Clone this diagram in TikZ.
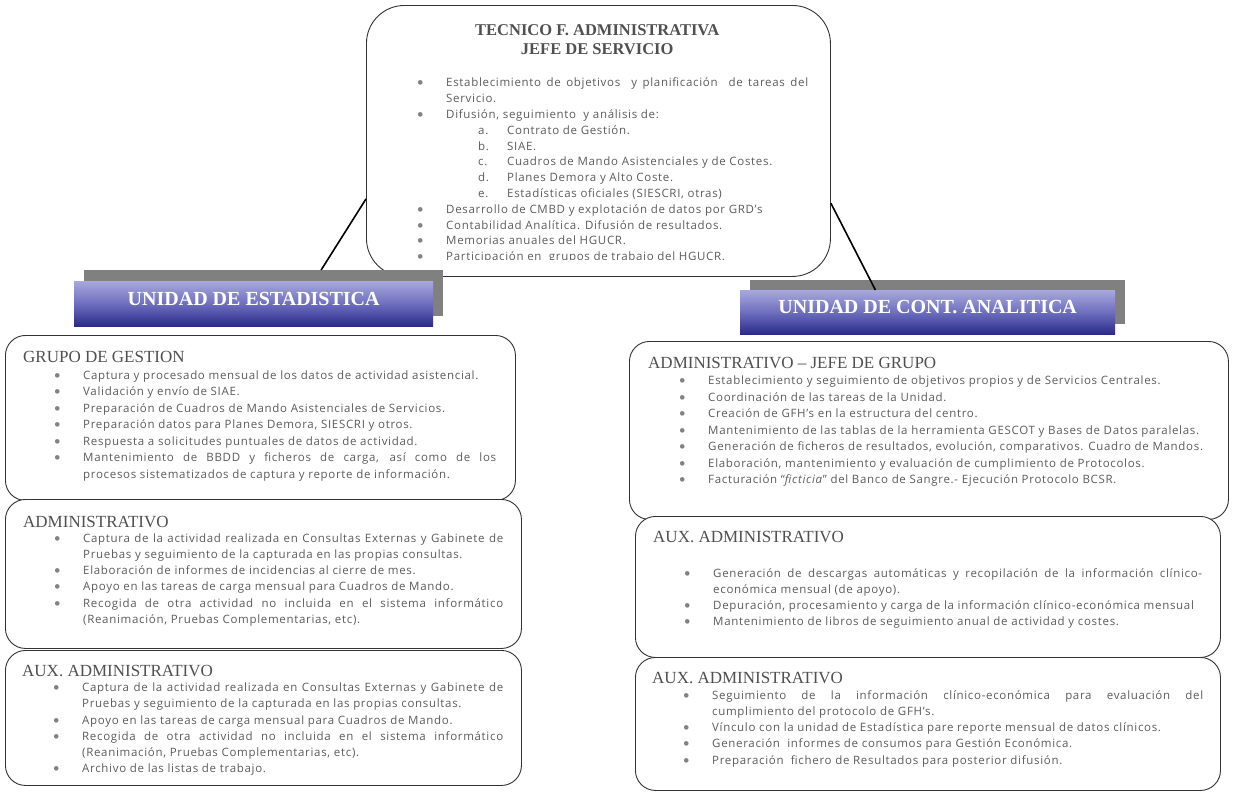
\documentclass[tikz,border=0pt]{standalone}
\usepackage{fontspec}
\setmainfont{Liberation Serif}
\newfontfamily\cuerpo[LetterSpace=6]{Open Sans}
\newfontfamily\vinetafont{Carlito}

\definecolor{grisTexto}{RGB}{92,92,92}
\definecolor{grisTitulo}{RGB}{80,80,80}
\definecolor{grisVineta}{RGB}{130,130,130}
\definecolor{grisSombra}{RGB}{128,128,128}
\definecolor{azulClaro}{RGB}{168,168,222}
\definecolor{azulMedio}{RGB}{110,110,190}
\definecolor{azulOscuro}{RGB}{42,42,140}

% vinetas de las listas
\newcommand{\punto}{{\vinetafont\fontsize{13}{13}\selectfont\textcolor{grisVineta}{\textbullet}}}
\newcommand{\vineta}{\par\hangindent=60pt\hangafter=1\noindent
  \hspace*{31pt}\makebox[29pt][l]{\punto}}
\newcommand{\subvineta}[1]{\par\hangindent=121pt\hangafter=1\noindent
  \hspace*{92pt}\makebox[29pt][l]{#1}}
\newcommand{\titulo}[1]{{\rmfamily\fontsize{17}{18}\selectfont\color{grisTitulo}#1\par}}

\begin{document}
\begin{tikzpicture}[x=1pt, y=-1pt,
  caja/.style={draw=black!80, line width=0.9pt, fill=white, rounded corners=20pt,
    inner sep=0pt, anchor=north west},
  sombra/.style={fill=grisSombra, inner sep=0pt, anchor=north west},
  cabecera/.style={inner sep=0pt, anchor=north west, top color=azulClaro,
    bottom color=azulOscuro, middle color=azulMedio, text=white,
    text height=14pt, text depth=11pt,
    font=\bfseries\fontsize{20}{22}\selectfont},
  texto/.style={inner sep=0pt, anchor=base west, align=justify,
    text=grisTexto, font=\cuerpo\fontsize{11.5}{16.2}\selectfont},
  conector/.style={line width=1.6pt}]

  \useasboundingbox[fill=white] (0,0) rectangle (1234,798);

  % caja superior
  \node[caja, rounded corners=38pt, minimum width=464pt, minimum height=271pt]
    (jefe) at (366,5) {};
  \begin{scope}
    \clip (366,5) rectangle (830,259);
    \node[texto, text width=422pt, font=\cuerpo\fontsize{11.5}{15.8}\selectfont]
      (jefeTxt) at (386,35) {%
      {\centering\rmfamily\bfseries\fontsize{16.5}{19}\selectfont\color{grisTitulo}
        TECNICO F. ADMINISTRATIVA\\JEFE DE SERVICIO\par}\vspace{17pt}
      \vineta Establecimiento de objetivos \ y planificación \ de tareas del\linebreak Servicio.
      \vineta Difusión, seguimiento \ y análisis de:
      \subvineta{a.}Contrato de Gestión.
      \subvineta{b.}SIAE.
      \subvineta{c.}Cuadros de Mando Asistenciales y de Costes.
      \subvineta{d.}Planes Demora y Alto Coste.
      \subvineta{e.}Estadísticas oficiales (SIESCRI, otras)
      \vineta Desarrollo de CMBD y explotación de datos por GRD’s
      \vineta Contabilidad Analítica. Difusión de resultados.
      \vineta Memorias anuales del HGUCR.
      \vineta Participación en \ grupos de trabajo del HGUCR.\par};
  \end{scope}

  % cabeceras de las unidades
  \node[sombra, minimum width=359pt, minimum height=46pt] (sombraE) at (84,270) {};
  \node[cabecera, minimum width=359pt, minimum height=45pt] (estadistica) at (74,281)
    {UNIDAD DE ESTADISTICA};
  \node[sombra, minimum width=375pt, minimum height=44pt] (sombraA) at (750,280) {};
  \node[cabecera, minimum width=375pt, minimum height=44pt] (analitica) at (740,290)
    {UNIDAD DE CONT. ANALITICA};

  \draw[conector] (jefe.194) -- (sombraE.22);
  \draw[conector] (jefe.345.6) -- (analitica.157);

  % unidad de estadistica
  \node[caja, minimum width=510pt, minimum height=165pt] (gestion) at (5,335) {};
  \node[texto, text width=473pt, font=\cuerpo\fontsize{11.5}{16.5}\selectfont]
    (gestionTxt) at (23,362) {%
    \titulo{GRUPO DE GESTION}\vspace{0.5pt}
    \vineta Captura y procesado mensual de los datos de actividad asistencial.
    \vineta Validación y envío de SIAE.
    \vineta Preparación de Cuadros de Mando Asistenciales de Servicios.
    \vineta Preparación datos para Planes Demora, SIESCRI y otros.
    \vineta Respuesta a solicitudes puntuales de datos de actividad.
    \vineta Mantenimiento de BBDD y ficheros de carga, así como de los\linebreak procesos sistematizados de captura y reporte de información.\par};

  \node[caja, minimum width=516pt, minimum height=149pt] (admin) at (5,499) {};
  \node[texto, text width=480pt] (adminTxt) at (23,527) {%
    \titulo{ADMINISTRATIVO}\vspace{-1pt}
    \vineta Captura de la actividad realizada en Consultas Externas y Gabinete de\linebreak Pruebas y seguimiento de la capturada en las propias consultas.
    \vineta Elaboración de informes de incidencias al cierre de mes.
    \vineta Apoyo en las tareas de carga mensual para Cuadros de Mando.
    \vineta Recogida de otra actividad no incluida en el sistema informático\linebreak (Reanimación, Pruebas Complementarias, etc).\par};

  \node[caja, minimum width=516pt, minimum height=135pt] (auxE) at (5,650) {};
  \node[texto, text width=481pt] (auxETxt) at (22,676) {%
    \titulo{AUX. ADMINISTRATIVO}\vspace{-0.5pt}
    \vineta Captura de la actividad realizada en Consultas Externas y Gabinete de\linebreak Pruebas y seguimiento de la capturada en las propias consultas.
    \vineta Apoyo en las tareas de carga mensual para Cuadros de Mando.
    \vineta Recogida de otra actividad no incluida en el sistema informático\linebreak (Reanimación, Pruebas Complementarias, etc).
    \vineta Archivo de las listas de trabajo.\par};

  % unidad de contabilidad analitica
  \node[caja, minimum width=599pt, minimum height=178pt] (jefeGrupo) at (629,341) {};
  \node[texto, text width=565pt, font=\cuerpo\fontsize{11.5}{16.5}\selectfont]
    (jefeGrupoTxt) at (648,368) {%
    \titulo{ADMINISTRATIVO – JEFE DE GRUPO}
    \vineta Establecimiento y seguimiento de objetivos propios y de Servicios Centrales.
    \vineta Coordinación de las tareas de la Unidad.
    \vineta Creación de GFH’s en la estructura del centro.
    \vineta Mantenimiento de las tablas de la herramienta GESCOT y Bases de Datos paralelas.
    \vineta Generación de ficheros de resultados, evolución, comparativos. Cuadro de Mandos.
    \vineta Elaboración, mantenimiento y evaluación de cumplimiento de Protocolos.
    \vineta Facturación “\textit{ficticia}” del Banco de Sangre.- Ejecución Protocolo BCSR.\par};

  \node[caja, minimum width=585pt, minimum height=141pt] (auxA) at (635,516) {};
  \node[texto, text width=549pt] (auxATxt) at (653,542) {%
    \titulo{AUX. ADMINISTRATIVO}\vspace{19pt}
    \vineta Generación de descargas automáticas y recopilación de la información clínico-\linebreak{}económica mensual (de apoyo).
    \vineta Depuración, procesamiento y carga de la información clínico-económica mensual
    \vineta Mantenimiento de libros de seguimiento anual de actividad y costes.\par};

  \node[caja, minimum width=585pt, minimum height=133pt] (auxB) at (635,657) {};
  \node[texto, text width=551pt] (auxBTxt) at (652,683) {%
    \titulo{AUX. ADMINISTRATIVO}
    \vineta Seguimiento de la información clínico-económica para evaluación del\linebreak cumplimiento del protocolo de GFH’s.
    \vineta Vínculo con la unidad de Estadística pare reporte mensual de datos clínicos.
    \vineta Generación \ informes de consumos para Gestión Económica.
    \vineta Preparación \ fichero de Resultados para posterior difusión.\par};
\end{tikzpicture}
\end{document}
